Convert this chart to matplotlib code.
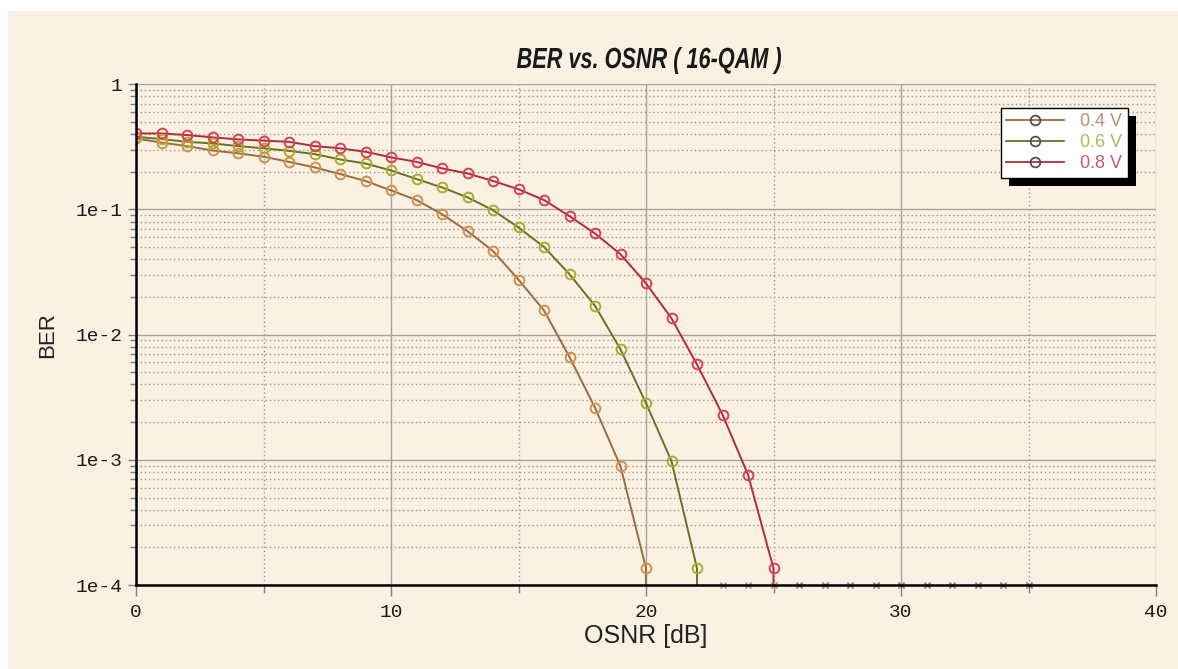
import numpy as np
import matplotlib
matplotlib.use("Agg")
import matplotlib.pyplot as plt
from matplotlib.patches import Rectangle, PathPatch
from matplotlib.lines import Line2D
from matplotlib.ticker import FixedLocator, NullFormatter
from matplotlib.textpath import TextPath
from matplotlib.font_manager import FontProperties
from matplotlib.transforms import Affine2D

# ---------------- data ----------------
osnr = list(range(0, 36))

ber_04 = [0.370, 0.342, 0.321, 0.296, 0.281, 0.264, 0.240, 0.217, 0.192, 0.169,
          0.142, 0.119, 0.0917, 0.0670, 0.0466, 0.0275, 0.0156, 0.00662, 0.00261,
          8.9e-4, 1.36e-4, 0.0]
ber_06 = [0.381, 0.365, 0.347, 0.337, 0.321, 0.308, 0.294, 0.277, 0.251, 0.233,
          0.205, 0.175, 0.150, 0.125, 0.0987, 0.0718, 0.0502, 0.0304, 0.0170,
          0.00763, 0.00284, 9.75e-4, 1.36e-4] + [0.0] * 13
ber_08 = [0.405, 0.405, 0.393, 0.377, 0.363, 0.355, 0.347, 0.321, 0.308, 0.289,
          0.261, 0.240, 0.213, 0.194, 0.169, 0.145, 0.119, 0.0884, 0.0643, 0.0439,
          0.0257, 0.0135, 0.00578, 0.0023, 7.6e-4, 1.36e-4] + [0.0] * 10

series_labels = ["0.4 V", "0.6 V", "0.8 V"]
title_text = "BER vs. OSNR ( 16-QAM )"
y_ticks = [1e-4, 1e-3, 1e-2, 1e-1, 1]
y_tick_labels = ["1e-4", "1e-3", "1e-2", "1e-1", "1"]
x_ticks = [0, 10, 20, 30, 40]
x_tick_labels = ["0", "10", "20", "30", "40"]

# ---------------- style ----------------
W, H = 1178, 669
BG = "#FBF1E2"
line_cols = ["#9A6A42", "#6E6E26", "#B02C3A"]
mark_cols = ["#D0904E", "#ABAB2E", "#D84058"]
text_cols = ["#B49272", "#B4B45E", "#C45C6C"]
mono = ["Liberation Mono", "DejaVu Sans Mono"]
sans = ["Liberation Sans", "DejaVu Sans"]

fig = plt.figure(figsize=(W / 100, H / 100), dpi=100, facecolor="white")
fig.patches.append(Rectangle((8 / W, 0), 1 - 8 / W, 1 - 11 / H, transform=fig.transFigure,
                             facecolor=BG, edgecolor="none", zorder=-10))

ax = fig.add_axes([136 / W, 1 - 585 / H, (1156 - 136) / W, (585 - 84.3) / H])
ax.set_facecolor(BG)
ax.set_yscale("log", nonpositive="clip")
ax.set_xlim(0, 40)
ax.set_ylim(1e-4, 1)

# ticks & grid
ax.yaxis.set_major_locator(FixedLocator(y_ticks))
ax.yaxis.set_minor_locator(FixedLocator([m * 10.0 ** e for e in range(-4, 0) for m in range(2, 10)]))
ax.yaxis.set_minor_formatter(NullFormatter())
ax.set_yticks(y_ticks)
ax.set_yticklabels(y_tick_labels, family=mono, fontsize=14, color="#1A1A1A")
ax.xaxis.set_major_locator(FixedLocator(x_ticks))
ax.set_xticks(x_ticks)
ax.set_xticklabels(x_tick_labels, family=mono, fontsize=14, color="#1A1A1A")
ax.xaxis.set_minor_locator(FixedLocator([5, 15, 25, 35]))

ax.grid(True, which="major", color="#A8A29A", linewidth=1.0, linestyle="-")
ax.grid(True, which="minor", color="#9A968E", linewidth=1.0, linestyle=(0, (1, 2)))
ax.set_axisbelow(True)

ax.tick_params(axis="both", which="major", direction="out", length=6, width=1, color="#808080", pad=4)
ax.tick_params(axis="y", which="minor", direction="out", length=4, width=1, color="#808080")
ax.tick_params(axis="x", which="minor", direction="out", length=6, width=1, color="#808080")
ax.tick_params(axis="x", which="major", length=8, pad=6)

for s in ["top", "right"]:
    ax.spines[s].set_visible(False)
for s in ["left", "bottom"]:
    ax.spines[s].set_color("black")
    ax.spines[s].set_linewidth(1.8)
    ax.spines[s].set_zorder(5)

# curves
all_series = [ber_04, ber_06, ber_08]
handles = []
for i, (ber, lab) in enumerate(zip(all_series, series_labels)):
    xs = np.array(osnr[:len(ber)], dtype=float)
    ys = np.array(ber, dtype=float)
    ax.plot(xs, ys, color=line_cols[i], linewidth=1.4, zorder=3, clip_on=True)
    pos = ys > 0
    ax.plot(xs[pos], ys[pos], linestyle="none", marker="o", markersize=7,
            markerfacecolor="none", markeredgecolor=mark_cols[i], markeredgewidth=1.4, zorder=4)
    if i > 0:
        zx = xs[~pos]
        ax.plot(zx, np.full(len(zx), ax.get_ylim()[0]), linestyle="none", marker="x",
                markersize=5, color="#8A8A80", markeredgewidth=1.0, zorder=4, clip_on=False)
    handles.append(Line2D([], [], color=line_cols[i], linewidth=1.3, marker="o", markersize=7,
                          markerfacecolor="none", markeredgecolor="#505050", markeredgewidth=1.3))

# title: condensed bold italic via scaled text path (pixel coordinates)
tp = TextPath((0, 0), title_text, size=30,
              prop=FontProperties(family=sans, weight="bold", style="italic"))
ext = tp.get_extents()
cap = TextPath((0, 0), "B", size=30,
               prop=FontProperties(family=sans, weight="bold", style="italic")).get_extents()
target_w = 781 - 517
target_cap = 20.0
sx = target_w / ext.width
sy = target_cap / cap.y1
baseline = H - 68
tr = Affine2D().translate(-ext.x0, 0).scale(sx, sy).translate(517, baseline)
fig.patches.append(PathPatch(tr.transform_path(tp), transform=None,
                             facecolor="#1A1A1A", edgecolor="none", zorder=5))

ax.set_xlabel("OSNR [dB]", family=sans, fontsize=18, color="#222222", labelpad=2)
ax.set_ylabel("BER", family=sans, fontsize=16, color="#222222", labelpad=12)

# legend
leg = ax.legend(handles, series_labels, loc="upper left",
                bbox_to_anchor=((1001 - 136) / (1156 - 136), 1 - (108 - 84.3) / (585 - 84.3)),
                frameon=True, fancybox=False, framealpha=1, facecolor="white", edgecolor="black",
                prop={"family": sans, "size": 13}, handlelength=3.2, handletextpad=0.9,
                borderpad=0.3, labelspacing=0.22, borderaxespad=0)
leg.get_frame().set_linewidth(1.0)
leg.set_zorder(10)
for t, c in zip(leg.get_texts(), text_cols):
    t.set_color(c)

fig.canvas.draw()
bb = leg.get_window_extent()
sh = Rectangle((bb.x0 + 8, bb.y0 - 8), bb.width, bb.height, transform=None,
               facecolor="black", edgecolor="none", zorder=9, clip_on=False)
ax.add_artist(sh)

fig.savefig("out.png", dpi=100, facecolor="white")
